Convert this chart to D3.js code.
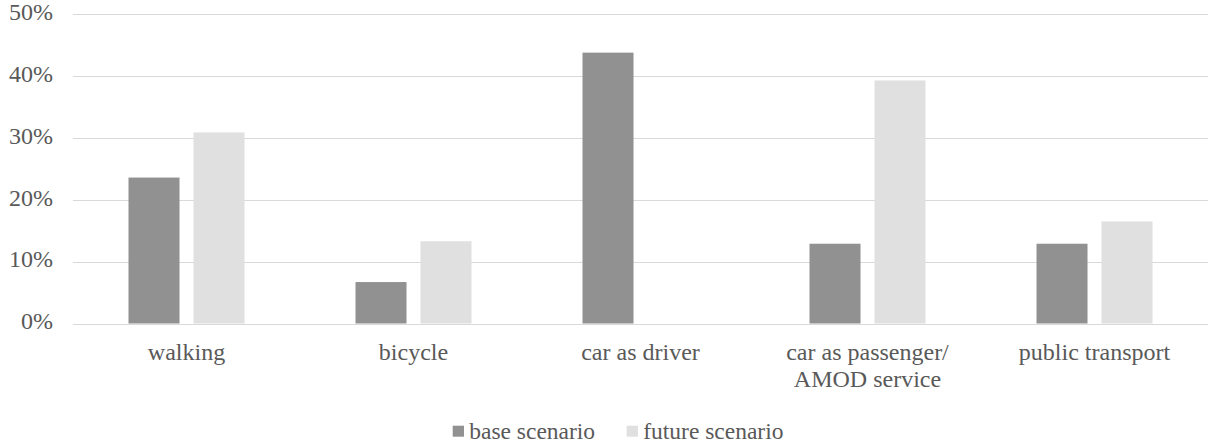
<!DOCTYPE html>
<html><head><meta charset="utf-8">
<script src="https://cdn.jsdelivr.net/npm/d3@7"></script>
<style>
html,body{margin:0;padding:0;background:#fff;}
svg{display:block;}
</style></head><body>
<svg id="chart" width="1212" height="447"></svg>
<script>
const categories = ["walking", "bicycle", "car as driver", "car as passenger/\nAMOD service", "public transport"];
const seriesNames = ["base scenario", "future scenario"];
const baseValues = [0.236, 0.067, 0.438, 0.129, 0.129];
const futureValues = [0.309, 0.133, 0, 0.393, 0.165];
const yTicks = [0, 0.1, 0.2, 0.3, 0.4, 0.5];
const colors = ["#919191", "#e0e0e0"];

(function () {
const FONT = '"Liberation Serif"';
const svg = d3.select("#chart");
const mLeft = 73, mRight = 1208, mTop = 14.3, mBottom = 323.5;

const x0 = d3.scaleBand().domain(categories).range([mLeft, mRight]).padding(0);
const x1 = d3.scaleBand().domain(seriesNames).range([0, x0.bandwidth()])
  .paddingInner(0.215).paddingOuter(0.854);
const y = d3.scaleLinear().domain([0, 0.5]).range([mBottom, mTop]);

// gridlines
svg.append("g").selectAll("line").data(yTicks).join("line")
  .attr("x1", mLeft).attr("x2", mRight)
  .attr("y1", d => Math.round(y(d)) + 0.5).attr("y2", d => Math.round(y(d)) + 0.5)
  .attr("stroke", "#d9d9d9").attr("stroke-width", 1.2);

// y axis labels
const yAxis = d3.axisLeft(y).tickValues(yTicks).tickFormat(d3.format(".0%")).tickSize(0).tickPadding(0);
const ya = svg.append("g").attr("transform", `translate(53,0)`).call(yAxis);
ya.attr("font-family", null).attr("font-size", null);
ya.select(".domain").remove();
ya.selectAll("text").style("font-size", "24px").style("fill", "#595959")
  .style("font-family", FONT).attr("dy", "0.22em");

// bars
const data = categories.map((c, i) => ({cat: c, vals: [baseValues[i], futureValues[i]]}));
const groups = svg.append("g").selectAll("g").data(data).join("g")
  .attr("transform", d => `translate(${x0(d.cat)},0)`);
groups.selectAll("rect").data(d => d.vals.map((v, j) => ({s: seriesNames[j], v, j})).filter(d => d.v > 0))
  .join("rect")
  .attr("x", d => x1(d.s)).attr("width", x1.bandwidth())
  .attr("y", d => y(d.v)).attr("height", d => y(0) - y(d.v))
  .attr("fill", d => colors[d.j]);

// x labels
const xl = svg.append("g").selectAll("text").data(categories).join("text")
  .attr("x", d => x0(d) + x0.bandwidth() / 2)
  .attr("y", mBottom + 36.5)
  .attr("text-anchor", "middle")
  .style("font-size", "24px").style("font-family", FONT).style("fill", "#595959");
xl.each(function(d) {
  const lines = d.split("\n");
  d3.select(this).selectAll("tspan").data(lines).join("tspan")
    .attr("x", x0(d) + x0.bandwidth() / 2)
    .attr("dy", (l, i) => i === 0 ? 0 : 27)
    .text(l => l);
});

// legend
const legendX = [452.7, 626.7];
const lg = svg.append("g").selectAll("g").data(seriesNames).join("g")
  .attr("transform", (d, i) => `translate(${legendX[i]},425.7)`);
lg.append("rect").attr("width", 11.3).attr("height", 11).attr("fill", (d, i) => colors[i]);
lg.append("text").attr("x", 16.5).attr("y", 13.5)
  .style("font-size", "23.5px").style("font-family", FONT).style("fill", "#595959")
  .text(d => d);
})();
</script>
</body></html>
